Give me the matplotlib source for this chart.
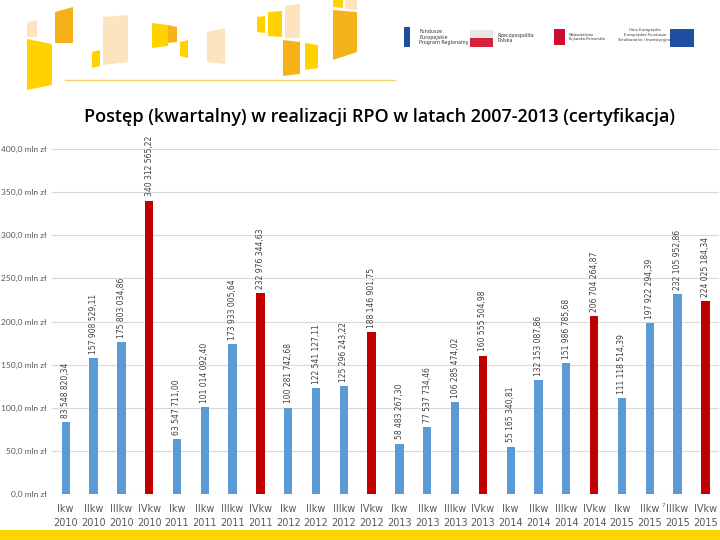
import matplotlib.pyplot as plt
from matplotlib.patches import Polygon, Rectangle

# --- Data (PLN) ---
quarters = ["Ikw", "IIkw", "IIIkw", "IVkw"]
years = ["2010", "2011", "2012", "2013", "2014", "2015"]
values = [
    83548820.34, 157908529.11, 175803034.86, 340312565.22,
    63547711.00, 101014092.40, 173933005.64, 232976344.63,
    100281742.68, 122541127.11, 125296243.22, 188146901.75,
    58483267.30, 77537734.46, 106285474.02, 160555504.98,
    55165340.81, 132153087.86, 151986785.68, 206704264.87,
    111118514.39, 197922294.39, 232105952.86, 224025184.34,
]
bar_labels = [
    "83 548 820,34", "157 908 529,11", "175 803 034,86", "340 312 565,22",
    "63 547 711,00", "101 014 092,40", "173 933 005,64", "232 976 344,63",
    "100 281 742,68", "122 541 127,11", "125 296 243,22", "188 146 901,75",
    "58 483 267,30", "77 537 734,46", "106 285 474,02", "160 555 504,98",
    "55 165 340,81", "132 153 087,86", "151 986 785,68", "206 704 264,87",
    "111 118 514,39", "197 922 294,39", "232 105 952,86", "224 025 184,34",
]
x_labels = [f"{q}\n{y}" for y in years for q in quarters]
yticks = [0, 50, 100, 150, 200, 250, 300, 350, 400]

blue = "#5B9BD5"
red = "#C00000"
mln = [v / 1e6 for v in values]
colors = [red if i % 4 == 3 else blue for i in range(len(values))]

fig = plt.figure(figsize=(7.2, 5.4), dpi=100)

# --- slide decoration (pixel coordinates) ---
deco = fig.add_axes([0, 0, 1, 1], zorder=0)
deco.set_xlim(0, 720)
deco.set_ylim(540, 0)
deco.axis("off")
peach, orange, yellow = "#FCE4BE", "#F5B21B", "#FFD200"
shapes = [
    (peach, [(27, 22), (37, 20), (37, 37), (27, 37)]),
    (orange, [(55, 12), (73, 7), (73, 43), (55, 43)]),
    (yellow, [(27, 39), (52, 44), (52, 85), (27, 90)]),
    (yellow, [(92, 52), (100, 50), (100, 66), (92, 68)]),
    (peach, [(103, 17), (128, 15), (128, 62), (103, 65)]),
    (yellow, [(152, 23), (168, 25), (168, 46), (152, 48)]),
    (orange, [(168, 25), (177, 27), (177, 42), (168, 43)]),
    (yellow, [(180, 42), (188, 40), (188, 58), (180, 56)]),
    (peach, [(207, 32), (225, 28), (225, 64), (207, 62)]),
    (yellow, [(257, 17), (265, 16), (265, 33), (257, 32)]),
    (yellow, [(268, 12), (282, 11), (282, 37), (268, 36)]),
    (peach, [(285, 6), (300, 4), (300, 38), (285, 38)]),
    (orange, [(283, 40), (300, 42), (300, 74), (283, 76)]),
    (yellow, [(305, 43), (318, 45), (318, 68), (305, 70)]),
    (orange, [(333, 10), (357, 12), (357, 52), (333, 60)]),
    (yellow, [(333, 0), (343, 0), (343, 8), (333, 7)]),
    (peach, [(345, 0), (357, 0), (357, 10), (345, 9)]),
]
for c, pts in shapes:
    deco.add_patch(Polygon(pts, closed=True, color=c, lw=0))
deco.plot([65, 395], [80, 80], color="#FAD26B", lw=1)
deco.add_patch(Rectangle((0, 530), 720, 10, color="#FFD500", lw=0))

# logos on the right
deco.add_patch(Rectangle((404, 27), 6, 20, color="#1F4E9C", lw=0))
deco.text(419, 37, "Fundusze\nEuropejskie\nProgram Regionalny", fontsize=3.5,
          va="center", color="#333333", linespacing=1.1)
deco.add_patch(Rectangle((470, 30), 23, 8, color="#E8E8E8", lw=0))
deco.add_patch(Rectangle((470, 38), 23, 9, color="#D4213D", lw=0))
deco.text(498, 38, "Rzeczpospolita\nPolska", fontsize=3.5, va="center",
          color="#333333", linespacing=1.1)
deco.add_patch(Rectangle((554, 29), 11, 16, color="#C8102E", lw=0))
deco.text(569, 37, "Województwo\nKujawsko-Pomorskie", fontsize=2.6, va="center",
          color="#333333", linespacing=1.2)
deco.text(645, 35, "Unia Europejska\nEuropejskie Fundusze\nStrukturalne i Inwestycyjne",
          fontsize=2.8, va="center", ha="center", color="#333333", linespacing=1.2)
deco.add_patch(Rectangle((670, 29), 24, 18, color="#1F4FA0", lw=0))

fig.text(380, 117, "Postęp (kwartalny) w realizacji RPO w latach 2007-2013 (certyfikacja)",
         transform=deco.transData, ha="center", va="center", fontsize=13,
         fontfamily="Open Sans", fontweight="semibold", color="#000000")

# --- Chart ---
ax = fig.add_axes([0.072, 0.085, 0.927, 0.639], zorder=1)
ax.patch.set_alpha(0)
x = list(range(len(mln)))
bars = ax.bar(x, mln, width=0.3, color=colors, zorder=2)
for xi, v, lab in zip(x, mln, bar_labels):
    ax.annotate(lab, (xi, v), xytext=(0, 3), textcoords="offset points",
                rotation=90, ha="center", va="bottom", fontsize=5.5,
                color="#404040", annotation_clip=False)

ax.set_xlim(-0.5, len(mln) - 0.5)
ax.set_ylim(0, 400)
ax.set_yticks(yticks)
ax.set_yticklabels([f"{t},0 mln zł" for t in yticks], fontsize=6,
                   fontfamily="Lato", color="#595959")
ax.tick_params(axis="y", length=0, pad=4)
ax.set_xticks(x)
ax.set_xticklabels(x_labels, fontsize=7, color="#595959", linespacing=1.5)
ax.tick_params(axis="x", length=0, pad=7)
ax.grid(axis="y", color="#D9D9D9", lw=0.8, zorder=0)
for s in ax.spines.values():
    s.set_visible(False)

fig.text(662, 507, "7", transform=deco.transData, fontsize=4, color="#595959")

fig.savefig("out.png", dpi=100)
